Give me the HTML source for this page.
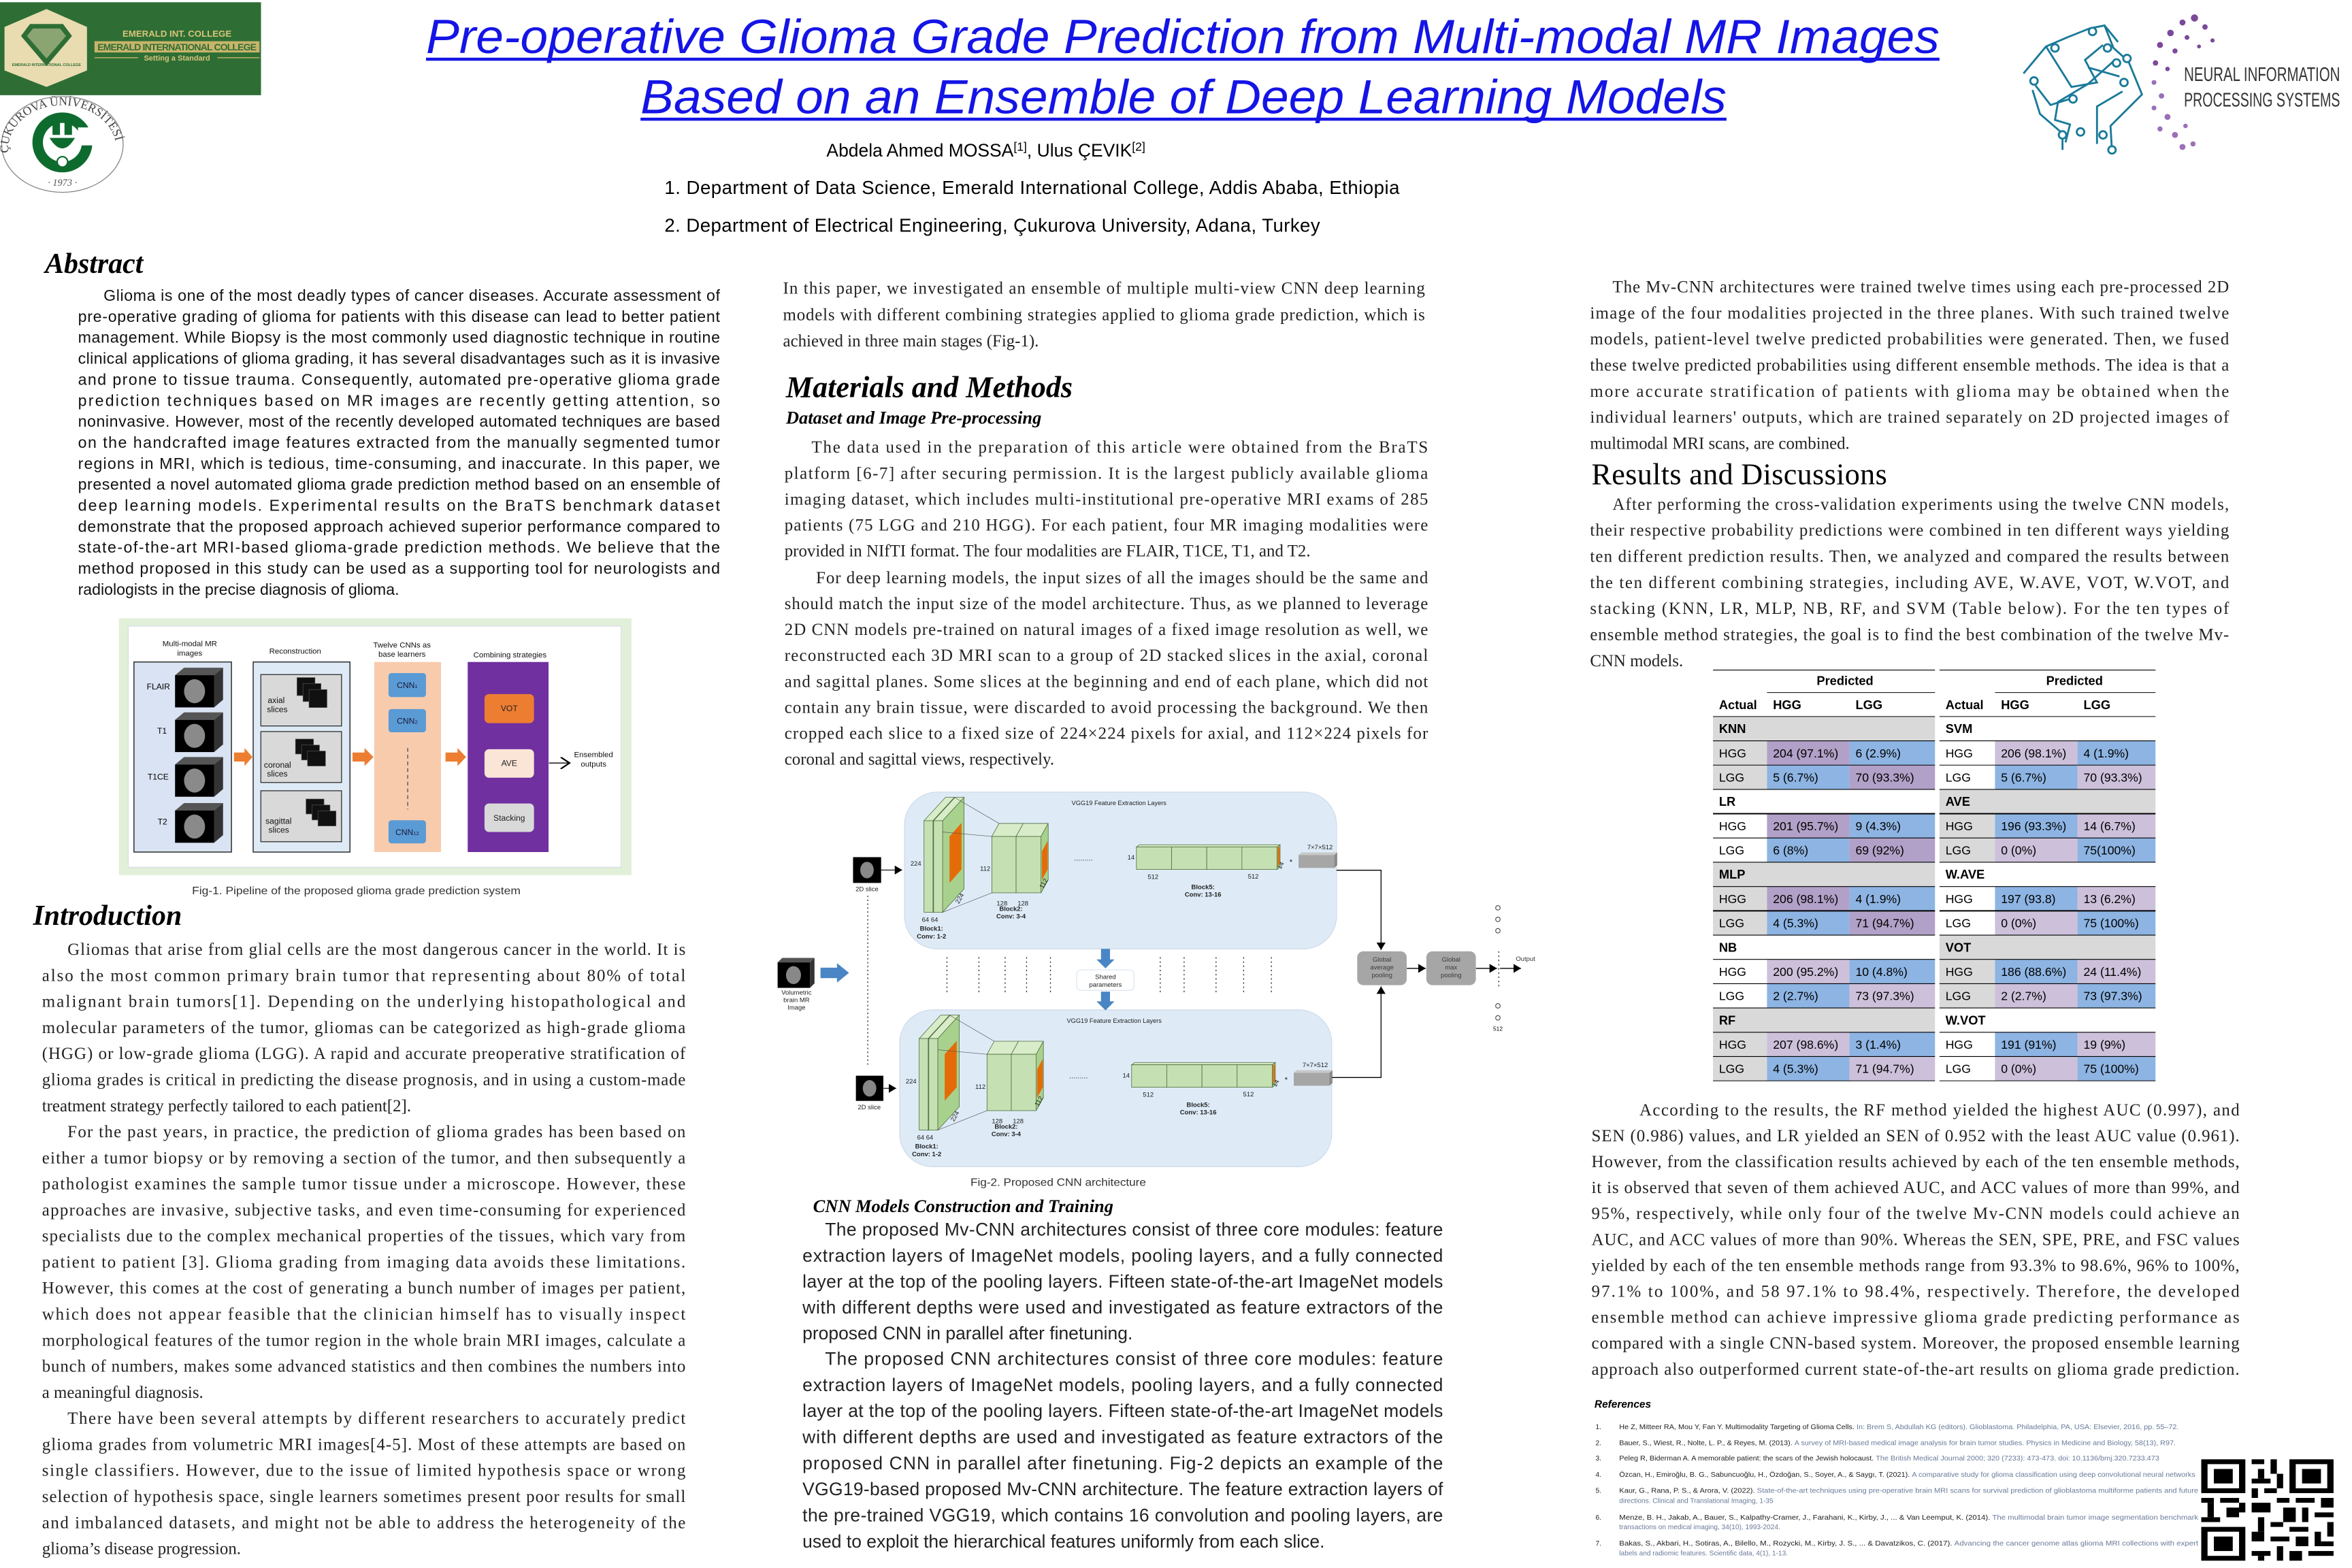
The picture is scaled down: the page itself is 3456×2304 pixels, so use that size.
<!DOCTYPE html>
<html><head><meta charset="utf-8">
<style>
html,body{margin:0;padding:0;background:#fff;}
svg{display:block;}
.s{font-family:"Liberation Sans",sans-serif;}
.r{font-family:"Liberation Serif",serif;}
</style></head>
<body>
<svg width="3456" height="2304" viewBox="0 0 1568 1046" preserveAspectRatio="none" xmlns="http://www.w3.org/2000/svg">
<defs>
<marker id="ah" markerWidth="6" markerHeight="6" refX="5" refY="3" orient="auto" markerUnits="userSpaceOnUse"><path d="M0,0 L5,3 L0,6" fill="#000"/></marker>
<marker id="ao" markerWidth="8" markerHeight="8" refX="6" refY="4" orient="auto" markerUnits="userSpaceOnUse"><path d="M0,0 L6,4 L0,8" fill="none" stroke="#000" stroke-width="1"/></marker>
</defs>
<rect width="1568" height="1046" fill="#fff"/>

<!-- Emerald banner -->
<rect x="0" y="1.5" width="174" height="62" fill="#2e6e35"/>
<polygon points="31,6 58,18 58,47 31,58 3,47 3,18" fill="#e8dcb0"/>
<polygon points="20,16 42,16 48,24 31,44 14,24" fill="#2e6e35"/>
<polygon points="22,19 40,19 44,24 31,39 18,24" fill="#e8dcb0" opacity="0.5"/>
<text x="31" y="44" font-size="2.5" text-anchor="middle" class="s" fill="#2e6e35" font-weight="bold">EMERALD INTERNATIONAL COLLEGE</text>
<rect x="63" y="27.5" width="110" height="7.5" fill="#c8b46a"/>
<text x="118" y="33.6" font-size="6.3" text-anchor="middle" class="s" font-weight="bold" fill="#2e6e35" textLength="106">EMERALD INTERNATIONAL COLLEGE</text>
<text x="118" y="24.5" font-size="6" text-anchor="middle" class="s" font-weight="bold" fill="#d8c47a">EMERALD INT. COLLEGE</text>
<line x1="63" y1="38.5" x2="92" y2="38.5" stroke="#c8b46a" stroke-width="0.6"/>
<line x1="145" y1="38.5" x2="173" y2="38.5" stroke="#c8b46a" stroke-width="0.6"/>
<text x="118" y="40.5" font-size="5" text-anchor="middle" class="s" font-weight="bold" fill="#d8c47a">Setting a Standard</text>

<!-- Cukurova logo -->
<ellipse cx="41.6" cy="96.3" rx="40.5" ry="32" fill="#fff" stroke="#888" stroke-width="0.6"/>
<path id="arc" d="M6,104 A36,29 0 1,1 77,104" fill="none"/>
<text font-size="8" class="r" fill="#444"><textPath href="#arc" startOffset="2">ÇUKUROVA ÜNİVERSİTESİ</textPath></text>
<text x="41.6" y="124" font-size="6.5" text-anchor="middle" class="r" font-style="italic" fill="#555">· 1973 ·</text>
<circle cx="41.6" cy="95" r="20" fill="#0e6b2e"/>
<circle cx="41.6" cy="95" r="13" fill="#fff"/>
<rect x="52" y="85" width="12" height="12" fill="#fff"/>
<rect x="35" y="81" width="5" height="9" fill="#0e6b2e"/>
<rect x="43" y="81" width="5" height="9" fill="#0e6b2e"/>
<path d="M33,92 Q41.6,106 50,92" fill="#0e6b2e"/>
<circle cx="41.6" cy="108" r="3.5" fill="#fff" stroke="#0e6b2e"/>

<!-- Title -->
<g class="s" font-style="italic" fill="#1414e6" font-size="32">
<text x="284" y="35.5" textLength="1009" lengthAdjust="spacingAndGlyphs">Pre-operative Glioma Grade Prediction from Multi-modal MR Images</text>
<text x="427" y="75.5" textLength="724" lengthAdjust="spacingAndGlyphs">Based on an Ensemble of Deep Learning Models</text>
</g>
<line x1="284" y1="39.5" x2="1293" y2="39.5" stroke="#1414e6" stroke-width="2"/>
<line x1="427" y1="79.5" x2="1151" y2="79.5" stroke="#1414e6" stroke-width="2"/>
<text x="551" y="104.5" font-size="12" class="s">Abdela Ahmed MOSSA<tspan font-size="8" dy="-4">[1]</tspan><tspan dy="4">, Ulus ÇEVIK</tspan><tspan font-size="8" dy="-4">[2]</tspan></text>
<text x="443" y="129.5" font-size="12.5" class="s" textLength="490">1.    Department of Data Science,  Emerald International College, Addis Ababa, Ethiopia</text>
<text x="443" y="154.5" font-size="12.5" class="s" textLength="437">2.    Department of Electrical Engineering, Çukurova University, Adana, Turkey</text>

<!-- NIPS logo -->
<g fill="none" stroke="#1a7a9a" stroke-width="1.3">
<path d="M1349,49 L1364,31 L1378,25 L1393,19 L1403,17 L1409,32 L1419,41 L1428,63 L1407,84 L1408,101"/>
<path d="M1357,57 L1367,70 L1380,66 M1355,60 L1360,76 L1375,89 L1375,100"/>
<path d="M1364,31 L1381,58 L1398,55 L1390,40 L1402,30 M1403,17 L1412,28"/>
<path d="M1392,45 L1413,51 M1410,40 L1392,56 L1372,68 L1370,80 L1380,83 L1377,95"/>
<path d="M1415,61 L1398,71 L1398,96"/>
<circle cx="1356" cy="54" r="2.5" fill="#fff"/><circle cx="1382" cy="66" r="2.5" fill="#fff"/>
<circle cx="1370" cy="32" r="2.5" fill="#fff"/><circle cx="1395" cy="21" r="2.5" fill="#fff"/>
<circle cx="1418" cy="39" r="2.5" fill="#fff"/><circle cx="1405" cy="32" r="2.5" fill="#fff"/>
<circle cx="1411" cy="42" r="2.5" fill="#fff"/><circle cx="1416" cy="55" r="2.5" fill="#fff"/>
<circle cx="1375" cy="90" r="2.5" fill="#fff"/><circle cx="1387" cy="88" r="2.5" fill="#fff"/>
<circle cx="1402" cy="90" r="2.5" fill="#fff"/><circle cx="1408" cy="100" r="2.5" fill="#fff"/>
</g>
<g fill="#7a4a9a">
<circle cx="1455" cy="15" r="2"/><circle cx="1463" cy="12" r="2.4"/><circle cx="1470" cy="18" r="1.8"/><circle cx="1447" cy="22" r="2.2"/><circle cx="1458" cy="25" r="1.6"/><circle cx="1475" cy="27" r="1.4"/><circle cx="1440" cy="30" r="2"/><circle cx="1450" cy="34" r="1.7"/><circle cx="1466" cy="31" r="1.3"/><circle cx="1437" cy="42" r="1.8"/><circle cx="1445" cy="46" r="1.5"/>
<circle cx="1436" cy="55" r="1.6" fill="#9a70b8"/><circle cx="1441" cy="64" r="1.8" fill="#9a70b8"/><circle cx="1436" cy="72" r="1.6" fill="#9a70b8"/><circle cx="1445" cy="78" r="2" fill="#9a70b8"/><circle cx="1440" cy="86" r="1.7" fill="#9a70b8"/><circle cx="1450" cy="90" r="2" fill="#9a70b8"/><circle cx="1457" cy="84" r="1.5" fill="#9a70b8"/><circle cx="1455" cy="98" r="2" fill="#9a70b8"/><circle cx="1462" cy="96" r="1.7" fill="#9a70b8"/>
</g>
<text x="1456" y="54" font-size="13" class="s" fill="#333" textLength="104" lengthAdjust="spacingAndGlyphs">NEURAL INFORMATION</text>
<text x="1456" y="71" font-size="13" class="s" fill="#333" textLength="104" lengthAdjust="spacingAndGlyphs">PROCESSING SYSTEMS</text>

<!-- Abstract -->
<text x="30" y="182" font-size="19" class="r" font-weight="bold" font-style="italic">Abstract</text>
<g class="s" font-size="10.5" fill="#111">
<text x="69" y="200.7" textLength="411">Glioma is one of the most deadly types of cancer diseases. Accurate assessment of</text>
<text x="52" y="214.7" textLength="428">pre-operative grading of glioma for patients with this disease can lead to better patient</text>
<text x="52" y="228.7" textLength="428">management. While Biopsy is the most commonly used diagnostic technique in routine</text>
<text x="52" y="242.7" textLength="428">clinical applications of glioma grading, it has several disadvantages such as it is invasive</text>
<text x="52" y="256.7" textLength="428">and prone to tissue trauma. Consequently, automated pre-operative glioma grade</text>
<text x="52" y="270.7" textLength="428">prediction techniques based on MR images are recently getting attention, so</text>
<text x="52" y="284.7" textLength="428">noninvasive. However, most of the recently developed automated techniques are based</text>
<text x="52" y="298.7" textLength="428">on the handcrafted image features extracted from the manually segmented tumor</text>
<text x="52" y="312.7" textLength="428">regions in MRI, which is tedious, time-consuming, and inaccurate. In this paper, we</text>
<text x="52" y="326.7" textLength="428">presented a novel automated glioma grade prediction method based on an ensemble of</text>
<text x="52" y="340.7" textLength="428">deep learning models. Experimental results on the BraTS benchmark dataset</text>
<text x="52" y="354.7" textLength="428">demonstrate that the proposed approach achieved superior performance compared to</text>
<text x="52" y="368.7" textLength="428">state-of-the-art MRI-based glioma-grade prediction methods. We believe that the</text>
<text x="52" y="382.7" textLength="428">method proposed in this study can be used as a supporting tool for neurologists and</text>
<text x="52" y="396.7">radiologists in the precise diagnosis of glioma.</text>
</g>

<!-- Fig 1 -->
<rect x="79.3" y="412.5" width="341.7" height="171.3" fill="#e2efd9"/>
<rect x="85.5" y="417.7" width="328.5" height="160.8" fill="#fff" stroke="#d5dde6" stroke-width="0.5"/>
<g class="s" font-size="5.2" text-anchor="middle" fill="#111">
<text x="126.5" y="431">Multi-modal MR</text><text x="126.5" y="437.5">images</text>
<text x="196.8" y="436">Reconstruction</text>
<text x="268" y="432">Twelve CNNs as</text><text x="268" y="438">base learners</text>
<text x="340" y="438.5">Combining strategies</text>
<text x="395.7" y="505">Ensembled</text><text x="395.7" y="511.5">outputs</text>
</g>
<rect x="89.3" y="441.6" width="65" height="126.8" fill="#dae3f3" stroke="#333" stroke-width="0.7"/>
<g>
<g id="cube1"><polygon points="116.7,450.4 122.7,445.4 148.7,445.4 142.7,450.4" fill="#555"/><polygon points="142.7,450.4 148.7,445.4 148.7,466.8 142.7,471.9" fill="#333"/><rect x="116.7" y="450.4" width="26" height="21.5" fill="#000"/><ellipse cx="129.7" cy="461.1" rx="7" ry="8" fill="#8a8a8a"/></g>
<use href="#cube1" y="29.8"/><use href="#cube1" y="59.6"/><use href="#cube1" y="90.3"/>
</g>
<g class="s" font-size="5.5" text-anchor="middle"><text x="105.6" y="460">FLAIR</text><text x="108" y="489.5">T1</text><text x="105.4" y="520">T1CE</text><text x="108.3" y="550">T2</text></g>
<rect x="168.8" y="441.6" width="64.5" height="126.8" fill="#deebf7" stroke="#333" stroke-width="0.7"/>
<g stroke="#333" stroke-width="0.6" fill="#d9d9d9">
<rect x="173.9" y="450" width="53.8" height="34.3"/><rect x="173.9" y="488" width="53.8" height="34"/><rect x="173.9" y="527.5" width="53.8" height="34"/></g>
<g fill="#111" stroke="#555" stroke-width="0.3">
<rect x="198" y="452" width="12" height="12"/><rect x="202" y="456" width="12" height="12"/><rect x="206" y="460" width="12" height="12"/>
<rect x="197" y="493" width="12" height="10"/><rect x="201" y="497" width="12" height="10"/><rect x="205" y="501" width="12" height="10"/>
<rect x="204" y="533" width="12" height="10"/><rect x="208" y="537" width="12" height="10"/><rect x="212" y="541" width="12" height="10"/></g>
<g class="s" font-size="5.5" fill="#111"><text x="178.5" y="469">axial</text><text x="178" y="475">slices</text><text x="176" y="512">coronal</text><text x="178" y="518">slices</text><text x="177" y="549.5">sagittal</text><text x="179" y="555.5">slices</text></g>
<rect x="249.5" y="441.6" width="44.5" height="126.8" fill="#f8cbad"/>
<g fill="#5b9bd5"><rect x="259" y="449" width="25" height="16" rx="2"/><rect x="259" y="473" width="25" height="15.5" rx="2"/><rect x="259" y="547.2" width="25" height="15.4" rx="2"/></g>
<g class="s" font-size="5.5" fill="#1a1a3a" text-anchor="middle"><text x="271.5" y="459">CNN<tspan font-size="3.5">1</tspan></text><text x="271.5" y="482.8">CNN<tspan font-size="3.5">2</tspan></text><text x="271.5" y="557">CNN<tspan font-size="3.5">12</tspan></text></g>
<line x1="271.8" y1="499" x2="271.8" y2="540" stroke="#333" stroke-width="0.5" stroke-dasharray="2.5,2"/>
<rect x="311.8" y="441.6" width="53.9" height="126.8" fill="#7030a0"/>
<rect x="323" y="463" width="33" height="19.4" rx="3" fill="#ed7d31"/>
<rect x="323" y="499.8" width="33" height="19" rx="3" fill="#fbe5d6"/>
<rect x="323" y="536" width="33" height="19" rx="3" fill="#d9d9d9"/>
<g class="s" font-size="5.5" text-anchor="middle" fill="#222"><text x="339.5" y="474.5">VOT</text><text x="339.5" y="511">AVE</text><text x="339.5" y="547.5">Stacking</text></g>
<g fill="#ed7d31">
<polygon points="156,502 163,502 163,499 168.3,505 163,511 163,508 156,508"/>
<polygon points="235,502 243,502 243,499 249,505 243,511 243,508 235,508"/>
<polygon points="297,502 305,502 305,499 310.7,505 305,511 305,508 297,508"/></g>
<line x1="366" y1="509" x2="379.7" y2="509" stroke="#000" stroke-width="0.6" marker-end="url(#ao)"/>
<text x="128" y="596.5" font-size="7" class="s" fill="#333" textLength="219" lengthAdjust="spacingAndGlyphs">Fig-1.  Pipeline  of the  proposed  glioma  grade  prediction  system</text>

<!-- Introduction -->
<text x="22" y="617" font-size="19" class="r" font-weight="bold" font-style="italic">Introduction</text>
<g class="r" font-size="11.3" fill="#222">
<text x="45" y="637" textLength="412">Gliomas that arise from glial cells are the most dangerous cancer in the world. It is</text>
<text x="28" y="654.4" textLength="429">also the most common primary brain tumor that representing about 80% of total</text>
<text x="28" y="671.8" textLength="429">malignant brain tumors[1]. Depending on the underlying histopathological and</text>
<text x="28" y="689.1" textLength="429">molecular parameters of the tumor, gliomas can be categorized as high-grade glioma</text>
<text x="28" y="706.5" textLength="429">(HGG) or low-grade glioma (LGG). A rapid and accurate preoperative stratification of</text>
<text x="28" y="723.9" textLength="429">glioma grades is critical in predicting the disease prognosis, and in using a custom-made</text>
<text x="28" y="741.3">treatment strategy perfectly tailored to each patient[2].</text>
<text x="45" y="758.7" textLength="412">For the past years, in practice, the prediction of glioma grades has been based on</text>
<text x="28" y="776" textLength="429">either a tumor biopsy or by removing a section of the tumor, and then subsequently a</text>
<text x="28" y="793.4" textLength="429">pathologist examines the sample tumor tissue under a microscope. However, these</text>
<text x="28" y="810.8" textLength="429">approaches are invasive, subjective tasks, and even time-consuming for experienced</text>
<text x="28" y="828.2" textLength="429">specialists due to the complex mechanical properties of the tissues, which vary from</text>
<text x="28" y="845.6" textLength="429">patient to patient [3]. Glioma grading from imaging data avoids these limitations.</text>
<text x="28" y="862.9" textLength="429">However, this comes at the cost of generating a bunch number of images per patient,</text>
<text x="28" y="880.3" textLength="429">which does not appear feasible that the clinician himself has to visually inspect</text>
<text x="28" y="897.7" textLength="429">morphological features of the tumor region in the whole brain MRI images, calculate a</text>
<text x="28" y="915.1" textLength="429">bunch of numbers, makes some advanced statistics and then combines the numbers into</text>
<text x="28" y="932.5">a meaningful diagnosis.</text>
<text x="45" y="949.8" textLength="412">There have been several attempts by different researchers to accurately predict</text>
<text x="28" y="967.2" textLength="429">glioma grades from volumetric MRI images[4-5]. Most of these attempts are based on</text>
<text x="28" y="984.6" textLength="429">single classifiers. However, due to the issue of limited hypothesis space or wrong</text>
<text x="28" y="1002" textLength="429">selection of hypothesis space, single learners sometimes present poor results for small</text>
<text x="28" y="1019.4" textLength="429">and imbalanced datasets, and might not be able to address the heterogeneity of the</text>
<text x="28" y="1036.7">glioma’s disease progression.</text>
</g>

<!-- Middle column -->
<g class="r" font-size="11.3" fill="#222">
<text x="522" y="196" textLength="428">In this paper, we investigated an ensemble of multiple multi-view CNN deep learning</text>
<text x="522" y="213.5" textLength="428">models with different combining strategies applied to glioma grade prediction, which is</text>
<text x="522" y="231">achieved in three main stages (Fig-1).</text>
</g>
<text x="524" y="265" font-size="20" class="r" font-weight="bold" font-style="italic">Materials and Methods</text>
<text x="524" y="282.5" font-size="12" class="r" font-weight="bold" font-style="italic">Dataset and Image Pre-processing</text>
<g class="r" font-size="11.3" fill="#222">
<text x="541" y="302" textLength="411">The data used in the preparation of this article were obtained from the BraTS</text>
<text x="523" y="319.3" textLength="429">platform [6-7] after securing permission. It is the largest publicly available glioma</text>
<text x="523" y="336.6" textLength="429">imaging dataset, which includes multi-institutional pre-operative MRI exams of 285</text>
<text x="523" y="353.9" textLength="429">patients (75 LGG and 210 HGG). For each patient, four MR imaging modalities were</text>
<text x="523" y="371.2">provided in NIfTI format. The four modalities are FLAIR, T1CE, T1, and T2.</text>
<text x="544" y="389" textLength="408">For deep learning models, the input sizes of all the images should be the same and</text>
<text x="523" y="406.3" textLength="429">should match the input size of the model architecture. Thus, as we planned to leverage</text>
<text x="523" y="423.6" textLength="429">2D CNN models pre-trained on natural images of a fixed image resolution as well, we</text>
<text x="523" y="440.9" textLength="429">reconstructed each 3D MRI scan to a group of 2D stacked slices in the axial, coronal</text>
<text x="523" y="458.2" textLength="429">and sagittal planes. Some slices at the beginning and end of each plane, which did not</text>
<text x="523" y="475.5" textLength="429">contain any brain tissue, were discarded to avoid processing the background. We then</text>
<text x="523" y="492.8" textLength="429">cropped each slice to a fixed size of 224×224 pixels for axial, and 112×224 pixels for</text>
<text x="523" y="510.1">coronal and sagittal views, respectively.</text>
</g>

<!-- Fig 2 -->
<g id="panel">
<rect x="603" y="528.4" width="288" height="104.6" rx="22" fill="#deebf7" stroke="#cfdcea" stroke-width="0.6"/>
<text x="746" y="537" font-size="4.2" class="s" text-anchor="middle" fill="#222">VGG19 Feature Extraction Layers</text>
<g stroke="#4a6a3a" stroke-width="0.35">
<polygon points="616,547.5 630.3,531.9 636.3,531.9 622,547.5" fill="#d9ecc9"/>
<polygon points="622,547.5 636.3,531.9 636.3,593 622,608.6" fill="#a9d18e"/>
<rect x="616" y="547.5" width="6" height="61.1" fill="#c5e0b3"/>
<polygon points="622.4,547.5 636.7,531.9 642.7,531.9 628.4,547.5" fill="#d9ecc9"/>
<polygon points="628.4,547.5 642.7,531.9 642.7,593 628.4,608.6" fill="#a9d18e"/>
<rect x="622.4" y="547.5" width="6" height="61.1" fill="#c5e0b3"/>
<polygon points="633,558 641,549 641,580 633,589" fill="#e36c09" stroke="none"/>
<polygon points="661.2,558 666,549.3 682.2,549.3 677.4,558" fill="#d9ecc9"/>
<rect x="661.2" y="558" width="16.2" height="37.6" fill="#c5e0b3"/>
<polygon points="677.4,558 682.2,549.3 698.8,549.3 694,558" fill="#d9ecc9"/>
<polygon points="694,558 698.8,549.3 698.8,586.9 694,595.6" fill="#a9d18e"/>
<rect x="677.4" y="558" width="16.6" height="37.6" fill="#c5e0b3"/>
<polygon points="694.6,568 698.4,561 698.4,580 694.6,587" fill="#e36c09" stroke="none"/>
<polygon points="757.6,565 759.6,563.5 853.4,563.5 851.4,565" fill="#d9ecc9"/>
<polygon points="851.4,565 853.4,563.5 853.4,578.5 851.4,580" fill="#a9d18e"/>
<rect x="757.6" y="565" width="23.45" height="15" fill="#c5e0b3"/>
<rect x="781.05" y="565" width="23.45" height="15" fill="#c5e0b3"/>
<rect x="804.5" y="565" width="23.45" height="15" fill="#c5e0b3"/>
<rect x="827.95" y="565" width="23.45" height="15" fill="#c5e0b3"/>
</g>
<rect x="851.8" y="565" width="1.3" height="12" fill="#e36c09"/>
<g stroke="#555" stroke-width="0.3"><line x1="636.3" y1="531.9" x2="666" y2="549.3"/><line x1="628.4" y1="555" x2="661.2" y2="558"/><line x1="628.4" y1="608.6" x2="661.2" y2="595.6"/></g>
<text x="716" y="574" font-size="5" class="s" fill="#333">.........</text>
<polygon points="865.7,570.4 867.7,568.6 891.5,568.6 889.5,570.4" fill="#c8c8c8"/>
<polygon points="889.5,570.4 891.5,568.6 891.5,577.2 889.5,579" fill="#8a8a8a"/>
<rect x="865.7" y="570.4" width="23.8" height="8.6" fill="#a6a6a6"/>
<rect x="860" y="573.5" width="1.3" height="1.3" fill="#555"/>
<g class="s" font-size="4.3" fill="#222" text-anchor="middle">
<text x="880" y="566.5">7×7×512</text>
<text x="610.6" y="577.5">224</text><text x="656.8" y="581">112</text>
<text x="620" y="615">64 64</text>
<text x="621" y="620.8" font-weight="bold">Block1:</text><text x="621" y="626" font-weight="bold">Conv: 1-2</text>
<text x="668" y="604">128</text><text x="682" y="604">128</text>
<text x="674" y="607.6" font-weight="bold">Block2:</text><text x="674" y="612.6" font-weight="bold">Conv: 3-4</text>
<text x="754" y="573.5">14</text><text x="768.7" y="586.3">512</text><text x="835.5" y="586">512</text>
<text x="802" y="593.2" font-weight="bold">Block5:</text><text x="802" y="598.1" font-weight="bold">Conv: 13-16</text>
<text x="641" y="600" transform="rotate(-60 641 600)">224</text>
<text x="697" y="590" transform="rotate(-60 697 590)">112</text>
<text x="855" y="578" transform="rotate(-60 855 578)">14</text>
</g>
</g>
<use href="#panel" x="-3.2" y="145.3"/>
<!-- 2D slices -->
<rect x="568.7" y="571.8" width="18.7" height="17.2" fill="#000"/><ellipse cx="578" cy="580.4" rx="4.5" ry="5.5" fill="#888"/>
<rect x="570.6" y="717.6" width="18.3" height="16.8" fill="#000"/><ellipse cx="579.7" cy="726" rx="4.5" ry="5.5" fill="#888"/>
<g class="s" font-size="4.3" text-anchor="middle" fill="#222"><text x="578" y="594.5">2D slice</text><text x="579.5" y="740">2D slice</text></g>
<line x1="587.4" y1="580.4" x2="601.5" y2="580.4" stroke="#000" stroke-width="0.5" marker-end="url(#ah)"/>
<line x1="589" y1="726" x2="597.5" y2="726" stroke="#000" stroke-width="0.5" marker-end="url(#ah)"/>
<line x1="578.5" y1="597.5" x2="578.5" y2="711" stroke="#333" stroke-width="0.6" stroke-dasharray="1,1.6"/>
<!-- volumetric -->
<polygon points="518.4,642 521.5,639 543,639 540,642" fill="#555"/><polygon points="540,642 543,639 543,656 540,659" fill="#333"/>
<rect x="518.4" y="642" width="21.6" height="17" fill="#000"/><ellipse cx="529" cy="650.5" rx="5" ry="6" fill="#888"/>
<g class="s" font-size="4.3" text-anchor="middle" fill="#222"><text x="531" y="663.5">Volumetric</text><text x="531" y="668.5">brain MR</text><text x="531" y="673.5">Image</text></g>
<polygon points="547,645.5 558,645.5 558,642.5 566,649 558,655.5 558,652.5 547,652.5" fill="#4a86c5"/>
<!-- dotted separators -->
<g stroke="#333" stroke-width="0.6" stroke-dasharray="1,1.8">
<line x1="631.3" y1="638.5" x2="631.3" y2="662"/><line x1="652.6" y1="638.5" x2="652.6" y2="662"/><line x1="670.1" y1="638.5" x2="670.1" y2="662"/><line x1="684.4" y1="638.5" x2="684.4" y2="662"/><line x1="700.3" y1="638.5" x2="700.3" y2="662"/>
<line x1="773.5" y1="638.5" x2="773.5" y2="662"/><line x1="789.4" y1="638.5" x2="789.4" y2="662"/><line x1="810.7" y1="638.5" x2="810.7" y2="662"/><line x1="829.1" y1="638.5" x2="829.1" y2="662"/><line x1="847.6" y1="638.5" x2="847.6" y2="662"/>
<line x1="999.2" y1="634.6" x2="999.2" y2="659"/>
</g>
<!-- shared -->
<polygon points="734,633 740,633 740,640 743,640 737,646 731,640 734,640" fill="#4a86c5"/>
<rect x="717.8" y="647" width="38.2" height="13.7" rx="3" fill="#fff" stroke="#dde6f0" stroke-width="0.6"/>
<g class="s" font-size="4.3" text-anchor="middle" fill="#222"><text x="737" y="653">Shared</text><text x="737" y="658.3">parameters</text></g>
<polygon points="734,661.5 740,661.5 740,668 743,668 737,674 731,668 734,668" fill="#4a86c5"/>
<!-- pooling -->
<path d="M891,580.5 H920.7 V633.8" fill="none" stroke="#000" stroke-width="0.6" marker-end="url(#ah)"/>
<path d="M888,718.8 H920.7 V658" fill="none" stroke="#000" stroke-width="0.6" marker-end="url(#ah)"/>
<rect x="904.8" y="634.6" width="33" height="22.6" rx="4" fill="#a6a6a6"/>
<rect x="950.9" y="634.6" width="33" height="22.6" rx="4" fill="#a6a6a6"/>
<g class="s" font-size="4.3" text-anchor="middle" fill="#3a3a3a">
<text x="921.3" y="641.5">Global</text><text x="921.3" y="646.8">average</text><text x="921.3" y="652">pooling</text>
<text x="967.4" y="641.5">Global</text><text x="967.4" y="646.8">max</text><text x="967.4" y="652">pooling</text>
<text x="1017" y="641">Output</text></g>
<line x1="937.9" y1="646" x2="950.5" y2="646" stroke="#000" stroke-width="0.6" marker-end="url(#ah)"/>
<line x1="984" y1="646" x2="998" y2="646" stroke="#000" stroke-width="0.6" marker-end="url(#ah)"/>
<line x1="1000" y1="646" x2="1014" y2="646" stroke="#000" stroke-width="0.6" marker-end="url(#ah)"/>
<g fill="none" stroke="#444" stroke-width="0.5"><circle cx="998.6" cy="605.6" r="1.5"/><circle cx="998.6" cy="613.3" r="1.5"/><circle cx="998.6" cy="620.9" r="1.5"/><circle cx="998.6" cy="671" r="1.5"/><circle cx="998.6" cy="679" r="1.5"/></g>
<text x="998.6" y="687.5" font-size="3.8" class="s" text-anchor="middle">512</text>
<text x="647" y="791" font-size="7" class="s" fill="#333" textLength="117" lengthAdjust="spacingAndGlyphs">Fig-2. Proposed  CNN  architecture</text>

<!-- CNN models -->
<text x="542" y="808.5" font-size="12" class="r" font-weight="bold" font-style="italic">CNN Models Construction and Training</text>
<g class="s" font-size="12" fill="#222">
<text x="550" y="824.3" textLength="412">The proposed Mv-CNN architectures consist of three core modules: feature</text>
<text x="535" y="841.6" textLength="427">extraction layers of ImageNet models, pooling layers, and a fully connected</text>
<text x="535" y="858.9" textLength="427">layer at the top of the pooling layers. Fifteen state-of-the-art ImageNet models</text>
<text x="535" y="876.2" textLength="427">with different depths were used and investigated as feature extractors of the</text>
<text x="535" y="893.5">proposed CNN in parallel after finetuning.</text>
<text x="550" y="910.5" textLength="412">The proposed CNN architectures consist of three core modules: feature</text>
<text x="535" y="927.9" textLength="427">extraction layers of ImageNet models, pooling layers, and a fully connected</text>
<text x="535" y="945.3" textLength="427">layer at the top of the pooling layers. Fifteen state-of-the-art ImageNet models</text>
<text x="535" y="962.7" textLength="427">with different depths are used and investigated as feature extractors of the</text>
<text x="535" y="980.1" textLength="427">proposed CNN in parallel after finetuning. Fig-2 depicts an example of the</text>
<text x="535" y="997.5" textLength="427">VGG19-based  proposed Mv-CNN architecture. The feature extraction layers of</text>
<text x="535" y="1014.9" textLength="427">the pre-trained VGG19, which contains 16 convolution and pooling layers, are</text>
<text x="535" y="1032.3">used to exploit the hierarchical features uniformly from each slice.</text>
</g>

<!-- Right column -->
<g class="r" font-size="11.3" fill="#222">
<text x="1075" y="195" textLength="411">The Mv-CNN architectures were trained twelve times using each pre-processed 2D</text>
<text x="1060" y="212.4" textLength="426">image of the four modalities projected in the three planes. With such trained twelve</text>
<text x="1060" y="229.8" textLength="426">models, patient-level twelve predicted probabilities were generated. Then, we fused</text>
<text x="1060" y="247.2" textLength="426">these twelve predicted probabilities using different ensemble methods. The idea is that a</text>
<text x="1060" y="264.6" textLength="426">more accurate stratification of patients with glioma may be obtained when the</text>
<text x="1060" y="282" textLength="426">individual learners' outputs, which are trained separately on 2D projected images of</text>
<text x="1060" y="299.4">multimodal MRI scans, are combined.</text>
</g>
<text x="1061" y="323" font-size="20" class="r" textLength="197">Results and Discussions</text>
<g class="r" font-size="11.3" fill="#222">
<text x="1075" y="340" textLength="411">After performing the cross-validation experiments using the twelve CNN models,</text>
<text x="1060" y="357.4" textLength="426">their respective probability predictions were combined in ten different ways yielding</text>
<text x="1060" y="374.8" textLength="426">ten different prediction results. Then, we analyzed and compared the results between</text>
<text x="1060" y="392.2" textLength="426">the ten different combining strategies, including AVE, W.AVE, VOT, W.VOT, and</text>
<text x="1060" y="409.6" textLength="426">stacking (KNN, LR, MLP, NB, RF, and SVM (Table below). For the ten types of</text>
<text x="1060" y="427" textLength="426">ensemble method strategies, the goal is to find the best combination of the twelve Mv-</text>
<text x="1060" y="444.4">CNN models.</text>
<text x="1093" y="744" textLength="400">According to the results, the RF method yielded the highest AUC (0.997), and</text>
<text x="1061" y="761.3" textLength="432">SEN (0.986) values, and LR yielded an SEN of 0.952 with the least AUC value (0.961).</text>
<text x="1061" y="778.6" textLength="432">However, from the classification results achieved by each of the ten ensemble methods,</text>
<text x="1061" y="795.9" textLength="432">it is observed that seven of them achieved AUC, and ACC values of more than 99%, and</text>
<text x="1061" y="813.2" textLength="432">95%, respectively, while only four of the twelve Mv-CNN models could achieve an</text>
<text x="1061" y="830.5" textLength="432">AUC, and ACC values of more than 90%. Whereas the SEN, SPE, PRE, and FSC values</text>
<text x="1061" y="847.8" textLength="432">yielded by each of the ten ensemble methods range from 93.3% to 98.6%, 96% to 100%,</text>
<text x="1061" y="865.1" textLength="432">97.1% to 100%, and 58 97.1% to 98.4%, respectively. Therefore, the developed</text>
<text x="1061" y="882.4" textLength="432">ensemble method can achieve impressive glioma grade predicting performance as</text>
<text x="1061" y="899.7" textLength="432">compared with a single CNN-based system. Moreover, the proposed ensemble learning</text>
<text x="1061" y="917" textLength="432">approach also outperformed current state-of-the-art results on glioma grade prediction.</text>
</g>

<!-- Tables -->
<g id="tables" class="s" font-size="8">
<!-- left table backgrounds -->
<g>
<rect x="1142" y="478" width="148" height="16.2" fill="#d9d9d9"/>
<rect x="1142" y="494.2" width="36" height="32.4" fill="#d9d9d9"/>
<rect x="1178" y="494.2" width="55" height="16.2" fill="#b1a0c7"/><rect x="1233" y="494.2" width="57" height="16.2" fill="#8db4e2"/>
<rect x="1178" y="510.4" width="55" height="16.2" fill="#8db4e2"/><rect x="1233" y="510.4" width="57" height="16.2" fill="#b1a0c7"/>
<rect x="1178" y="542.8" width="55" height="16.2" fill="#b1a0c7"/><rect x="1233" y="542.8" width="57" height="16.2" fill="#8db4e2"/>
<rect x="1178" y="559" width="55" height="16.2" fill="#8db4e2"/><rect x="1233" y="559" width="57" height="16.2" fill="#b1a0c7"/>
<rect x="1142" y="575.2" width="148" height="16.2" fill="#d9d9d9"/>
<rect x="1142" y="591.4" width="36" height="32.4" fill="#d9d9d9"/>
<rect x="1178" y="591.4" width="55" height="16.2" fill="#b1a0c7"/><rect x="1233" y="591.4" width="57" height="16.2" fill="#8db4e2"/>
<rect x="1178" y="607.6" width="55" height="16.2" fill="#8db4e2"/><rect x="1233" y="607.6" width="57" height="16.2" fill="#b1a0c7"/>
<rect x="1178" y="640" width="55" height="16.2" fill="#ccc0da"/><rect x="1233" y="640" width="57" height="16.2" fill="#8db4e2"/>
<rect x="1178" y="656.2" width="55" height="16.2" fill="#8db4e2"/><rect x="1233" y="656.2" width="57" height="16.2" fill="#ccc0da"/>
<rect x="1142" y="672.4" width="148" height="16.2" fill="#d9d9d9"/>
<rect x="1142" y="688.6" width="36" height="32.4" fill="#d9d9d9"/>
<rect x="1178" y="688.6" width="55" height="16.2" fill="#ccc0da"/><rect x="1233" y="688.6" width="57" height="16.2" fill="#8db4e2"/>
<rect x="1178" y="704.8" width="55" height="16.2" fill="#8db4e2"/><rect x="1233" y="704.8" width="57" height="16.2" fill="#ccc0da"/>
</g>
<!-- right table backgrounds -->
<g>
<rect x="1330" y="494.2" width="55" height="16.2" fill="#ccc0da"/><rect x="1385" y="494.2" width="52" height="16.2" fill="#8db4e2"/>
<rect x="1330" y="510.4" width="55" height="16.2" fill="#8db4e2"/><rect x="1385" y="510.4" width="52" height="16.2" fill="#ccc0da"/>
<rect x="1293" y="526.6" width="144" height="16.2" fill="#d9d9d9"/>
<rect x="1293" y="542.8" width="37" height="32.4" fill="#d9d9d9"/>
<rect x="1330" y="542.8" width="55" height="16.2" fill="#8db4e2"/><rect x="1385" y="542.8" width="52" height="16.2" fill="#ccc0da"/>
<rect x="1330" y="559" width="55" height="16.2" fill="#ccc0da"/><rect x="1385" y="559" width="52" height="16.2" fill="#8db4e2"/>
<rect x="1330" y="591.4" width="55" height="16.2" fill="#8db4e2"/><rect x="1385" y="591.4" width="52" height="16.2" fill="#ccc0da"/>
<rect x="1330" y="607.6" width="55" height="16.2" fill="#ccc0da"/><rect x="1385" y="607.6" width="52" height="16.2" fill="#8db4e2"/>
<rect x="1293" y="623.8" width="144" height="16.2" fill="#d9d9d9"/>
<rect x="1293" y="640" width="37" height="32.4" fill="#d9d9d9"/>
<rect x="1330" y="640" width="55" height="16.2" fill="#8db4e2"/><rect x="1385" y="640" width="52" height="16.2" fill="#ccc0da"/>
<rect x="1330" y="656.2" width="55" height="16.2" fill="#ccc0da"/><rect x="1385" y="656.2" width="52" height="16.2" fill="#8db4e2"/>
<rect x="1330" y="688.6" width="55" height="16.2" fill="#8db4e2"/><rect x="1385" y="688.6" width="52" height="16.2" fill="#ccc0da"/>
<rect x="1330" y="704.8" width="55" height="16.2" fill="#ccc0da"/><rect x="1385" y="704.8" width="52" height="16.2" fill="#8db4e2"/>
</g>
<!-- lines -->
<g stroke="#000" stroke-width="0.5">
<line x1="1142" y1="447" x2="1290" y2="447"/><line x1="1178" y1="462" x2="1290" y2="462"/>
<line x1="1293" y1="447" x2="1437" y2="447"/><line x1="1330" y1="462" x2="1437" y2="462"/>
<line x1="1142" y1="478" x2="1290" y2="478"/><line x1="1293" y1="478" x2="1437" y2="478"/>
<line x1="1142" y1="494.2" x2="1290" y2="494.2"/><line x1="1293" y1="494.2" x2="1437" y2="494.2"/>
<line x1="1142" y1="510.4" x2="1290" y2="510.4"/><line x1="1293" y1="510.4" x2="1437" y2="510.4"/>
<line x1="1142" y1="526.6" x2="1290" y2="526.6"/><line x1="1293" y1="526.6" x2="1437" y2="526.6"/>
<line x1="1142" y1="542.8" x2="1290" y2="542.8" stroke-width="0.9"/><line x1="1293" y1="542.8" x2="1437" y2="542.8" stroke-width="0.9"/>
<line x1="1142" y1="559" x2="1290" y2="559"/><line x1="1293" y1="559" x2="1437" y2="559"/>
<line x1="1142" y1="575.2" x2="1290" y2="575.2"/><line x1="1293" y1="575.2" x2="1437" y2="575.2"/>
<line x1="1142" y1="591.4" x2="1290" y2="591.4"/><line x1="1293" y1="591.4" x2="1437" y2="591.4"/>
<line x1="1142" y1="607.6" x2="1290" y2="607.6" stroke-width="0.9"/><line x1="1293" y1="607.6" x2="1437" y2="607.6" stroke-width="0.9"/>
<line x1="1142" y1="623.8" x2="1290" y2="623.8"/><line x1="1293" y1="623.8" x2="1437" y2="623.8"/>
<line x1="1142" y1="640" x2="1290" y2="640"/><line x1="1293" y1="640" x2="1437" y2="640"/>
<line x1="1142" y1="656.2" x2="1290" y2="656.2"/><line x1="1293" y1="656.2" x2="1437" y2="656.2"/>
<line x1="1142" y1="672.4" x2="1290" y2="672.4"/><line x1="1293" y1="672.4" x2="1437" y2="672.4"/>
<line x1="1142" y1="688.6" x2="1290" y2="688.6"/><line x1="1293" y1="688.6" x2="1437" y2="688.6"/>
<line x1="1142" y1="704.8" x2="1290" y2="704.8"/><line x1="1293" y1="704.8" x2="1437" y2="704.8"/>
<line x1="1142" y1="721" x2="1290" y2="721"/><line x1="1293" y1="721" x2="1437" y2="721"/>
</g>
<g font-weight="bold" font-size="8.3">
<text x="1230" y="457" text-anchor="middle">Predicted</text><text x="1383" y="457" text-anchor="middle">Predicted</text>
<text x="1146" y="473">Actual</text><text x="1182" y="473">HGG</text><text x="1237" y="473">LGG</text>
<text x="1297" y="473">Actual</text><text x="1334" y="473">HGG</text><text x="1389" y="473">LGG</text>
<text x="1146" y="489">KNN</text><text x="1146" y="537.6">LR</text><text x="1146" y="586.2">MLP</text><text x="1146" y="634.8">NB</text><text x="1146" y="683.4">RF</text>
<text x="1297" y="489">SVM</text><text x="1297" y="537.6">AVE</text><text x="1297" y="586.2">W.AVE</text><text x="1297" y="634.8">VOT</text><text x="1297" y="683.4">W.VOT</text>
</g>
<g>
<text x="1146" y="505.2">HGG</text><text x="1182" y="505.2">204 (97.1%)</text><text x="1237" y="505.2">6 (2.9%)</text>
<text x="1146" y="521.4">LGG</text><text x="1182" y="521.4">5 (6.7%)</text><text x="1237" y="521.4">70 (93.3%)</text>
<text x="1146" y="553.8">HGG</text><text x="1182" y="553.8">201 (95.7%)</text><text x="1237" y="553.8">9 (4.3%)</text>
<text x="1146" y="570">LGG</text><text x="1182" y="570">6 (8%)</text><text x="1237" y="570">69 (92%)</text>
<text x="1146" y="602.4">HGG</text><text x="1182" y="602.4">206 (98.1%)</text><text x="1237" y="602.4">4 (1.9%)</text>
<text x="1146" y="618.6">LGG</text><text x="1182" y="618.6">4 (5.3%)</text><text x="1237" y="618.6">71 (94.7%)</text>
<text x="1146" y="651">HGG</text><text x="1182" y="651">200 (95.2%)</text><text x="1237" y="651">10 (4.8%)</text>
<text x="1146" y="667.2">LGG</text><text x="1182" y="667.2">2 (2.7%)</text><text x="1237" y="667.2">73 (97.3%)</text>
<text x="1146" y="699.6">HGG</text><text x="1182" y="699.6">207 (98.6%)</text><text x="1237" y="699.6">3 (1.4%)</text>
<text x="1146" y="715.8">LGG</text><text x="1182" y="715.8">4 (5.3%)</text><text x="1237" y="715.8">71 (94.7%)</text>
<text x="1297" y="505.2">HGG</text><text x="1334" y="505.2">206 (98.1%)</text><text x="1389" y="505.2">4 (1.9%)</text>
<text x="1297" y="521.4">LGG</text><text x="1334" y="521.4">5 (6.7%)</text><text x="1389" y="521.4">70 (93.3%)</text>
<text x="1297" y="553.8">HGG</text><text x="1334" y="553.8">196 (93.3%)</text><text x="1389" y="553.8">14 (6.7%)</text>
<text x="1297" y="570">LGG</text><text x="1334" y="570">0 (0%)</text><text x="1389" y="570">75(100%)</text>
<text x="1297" y="602.4">HGG</text><text x="1334" y="602.4">197 (93.8)</text><text x="1389" y="602.4">13 (6.2%)</text>
<text x="1297" y="618.6">LGG</text><text x="1334" y="618.6">0 (0%)</text><text x="1389" y="618.6">75 (100%)</text>
<text x="1297" y="651">HGG</text><text x="1334" y="651">186 (88.6%)</text><text x="1389" y="651">24 (11.4%)</text>
<text x="1297" y="667.2">LGG</text><text x="1334" y="667.2">2 (2.7%)</text><text x="1389" y="667.2">73 (97.3%)</text>
<text x="1297" y="699.6">HGG</text><text x="1334" y="699.6">191 (91%)</text><text x="1389" y="699.6">19 (9%)</text>
<text x="1297" y="715.8">LGG</text><text x="1334" y="715.8">0 (0%)</text><text x="1389" y="715.8">75 (100%)</text>
</g>
</g>

<!-- References -->
<text x="1063" y="939" font-size="7" class="s" font-weight="bold" font-style="italic">References</text>
<g class="s" font-size="4.6" fill="#222">
<text x="1063.7" y="953.3">1.</text><text x="1079.5" y="953.3" textLength="373" lengthAdjust="spacingAndGlyphs">He Z, Mitteer RA, Mou Y, Fan Y. Multimodality  Targeting of Glioma  Cells. <tspan fill="#6a7a9a">In: Brem S, Abdullah KG (editors). Glioblastoma. Philadelphia,  PA, USA: Elsevier, 2016, pp. 55–72.</tspan></text>
<text x="1063.7" y="964">2.</text><text x="1079.5" y="964" textLength="371" lengthAdjust="spacingAndGlyphs">Bauer, S., Wiest, R., Nolte, L. P., &amp; Reyes, M. (2013). <tspan fill="#6a7a9a">A survey of MRI-based medical image  analysis for brain tumor studies. Physics in Medicine and Biology, 58(13), R97.</tspan></text>
<text x="1063.7" y="974.3">3.</text><text x="1079.5" y="974.3" textLength="360" lengthAdjust="spacingAndGlyphs">Peleg R, Biderman A. A memorable  patient: the scars of the Jewish holocaust. <tspan fill="#6a7a9a">The British Medical Journal 2000; 320 (7233): 473-473. doi: 10.1136/bmj.320.7233.473</tspan></text>
<text x="1063.7" y="985.2">4.</text><text x="1079.5" y="985.2" textLength="384" lengthAdjust="spacingAndGlyphs">Özcan, H., Emiroğlu,  B. G., Sabuncuoğlu, H., Özdoğan, S., Soyer, A., &amp; Saygı, T. (2021). <tspan fill="#6a7a9a">A comparative study for glioma  classification using deep convolutional neural networks</tspan></text>
<text x="1063.7" y="995.8">5.</text><text x="1079.5" y="995.8" textLength="386" lengthAdjust="spacingAndGlyphs">Kaur, G., Rana, P. S.,  &amp; Arora, V. (2022). <tspan fill="#6a7a9a">State-of-the-art techniques using pre-operative brain MRI scans for survival prediction of glioblastoma multiforme patients and future</tspan></text>
<text x="1079.5" y="1002.7" fill="#6a7a9a">directions. Clinical and Translational Imaging,  1-35</text>
<text x="1063.7" y="1013.7">6.</text><text x="1079.5" y="1013.7" textLength="386" lengthAdjust="spacingAndGlyphs">Menze, B. H., Jakab, A., Bauer, S., Kalpathy-Cramer, J., Farahani, K., Kirby, J., ... &amp; Van Leemput, K. (2014). <tspan fill="#6a7a9a">The multimodal brain tumor image segmentation benchmark</tspan></text>
<text x="1079.5" y="1020.1" fill="#6a7a9a">transactions on medical imaging, 34(10), 1993-2024.</text>
<text x="1063.7" y="1031">7.</text><text x="1079.5" y="1031" textLength="386" lengthAdjust="spacingAndGlyphs">Bakas, S., Akbari, H., Sotiras, A., Bilello, M., Rozycki, M., Kirby, J. S., ... &amp; Davatzikos, C. (2017).  <tspan fill="#6a7a9a">Advancing the cancer genome atlas glioma MRI collections with expert</tspan></text>
<text x="1079.5" y="1037.7" fill="#6a7a9a">labels and   radiomic features. Scientific data, 4(1), 1-13.</text>
</g>

<!-- QR -->
<rect x="1466" y="972" width="90" height="70" fill="#fff"/>
<g transform="translate(1467.5,973.5) scale(4.2,3.22)" fill="#000">
<rect x="0" y="0" width="7" height="7"/><rect x="1" y="1" width="5" height="5" fill="#fff"/><rect x="2" y="2" width="3" height="3"/>
<rect x="14" y="0" width="7" height="7"/><rect x="15" y="1" width="5" height="5" fill="#fff"/><rect x="16" y="2" width="3" height="3"/>
<rect x="0" y="14" width="7" height="7"/><rect x="1" y="15" width="5" height="5" fill="#fff"/><rect x="2" y="16" width="3" height="3"/>
<rect x="8" y="0" width="2" height="1"/><rect x="11" y="0" width="1" height="3"/><rect x="9" y="2" width="1" height="2"/><rect x="8" y="4" width="3" height="1"/><rect x="12" y="3" width="1" height="3"/><rect x="10" y="6" width="2" height="1"/><rect x="8" y="6" width="1" height="2"/>
<rect x="0" y="8" width="2" height="1"/><rect x="3" y="8" width="3" height="1"/><rect x="1" y="9" width="1" height="3"/><rect x="4" y="10" width="2" height="2"/><rect x="0" y="12" width="3" height="1"/><rect x="6" y="9" width="1" height="2"/>
<rect x="8" y="9" width="3" height="2"/><rect x="12" y="8" width="2" height="1"/><rect x="13" y="10" width="2" height="3"/><rect x="9" y="12" width="1" height="3"/><rect x="11" y="13" width="2" height="1"/>
<rect x="15" y="8" width="3" height="1"/><rect x="19" y="8" width="2" height="2"/><rect x="16" y="10" width="1" height="3"/><rect x="18" y="11" width="3" height="1"/><rect x="20" y="13" width="1" height="3"/>
<rect x="8" y="15" width="2" height="2"/><rect x="11" y="16" width="3" height="1"/><rect x="12" y="18" width="1" height="3"/><rect x="8" y="19" width="3" height="1"/><rect x="9" y="20" width="1" height="1"/>
<rect x="14" y="14" width="3" height="1"/><rect x="15" y="16" width="2" height="2"/><rect x="18" y="15" width="1" height="3"/><rect x="14" y="19" width="2" height="2"/><rect x="17" y="19" width="4" height="1"/><rect x="19" y="17" width="2" height="1"/>
</g>
</svg>
</body></html>
